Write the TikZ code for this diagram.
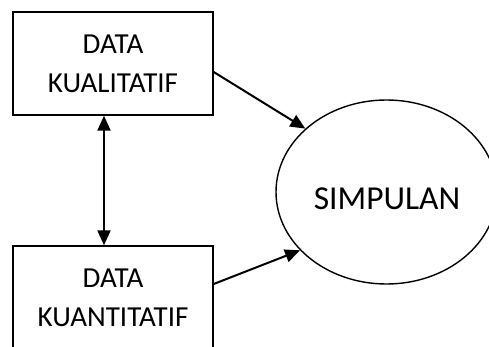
\documentclass[tikz,border=0pt]{standalone}
\usepackage{fontspec}
\setmainfont{Carlito}
\usetikzlibrary{arrows.meta,shapes.geometric}
\begin{document}
\begin{tikzpicture}[x=1pt,y=-1pt,
  databox/.style={draw,line width=1.4pt,minimum width=200pt,minimum height=103pt,
    inner sep=0pt,align=center,font=\fontsize{29}{39}\selectfont},
  goal/.style={draw,ellipse,line width=1.4pt,minimum width=221pt,minimum height=184pt,inner sep=0pt},
  goaltext/.style={inner sep=0pt,font=\fontsize{33.5}{40}\selectfont},
  conn/.style={line width=2pt,-{Triangle[length=15pt,width=13pt]}},
  biconn/.style={line width=2pt,{Triangle[length=15pt,width=13pt]}-{Triangle[length=15pt,width=13pt]}}]
  \useasboundingbox (0,0) rectangle (489,347);
  \clip (0,0) rectangle (489,347);

  % two data sources
  \node[databox] (kual) at (113,63.5) {DATA\\KUALITATIF};
  \node[databox] (kuan) at (113,297.5) {DATA\\KUANTITATIF};

  % conclusion
  \node[goal] (simp) at (386.5,192) {};
  \node[goaltext] (simptext) at (387,199) {SIMPULAN};

  % connectors
  \draw[biconn] ([xshift=-9pt]kual.south) -- ([xshift=-9pt]kuan.north);
  \draw[conn] ([yshift=-8.5pt]kual.east) -- (simp.142);
  \draw[conn] ([yshift=13.5pt]kuan.east) -- (simp.214);
\end{tikzpicture}
\end{document}
